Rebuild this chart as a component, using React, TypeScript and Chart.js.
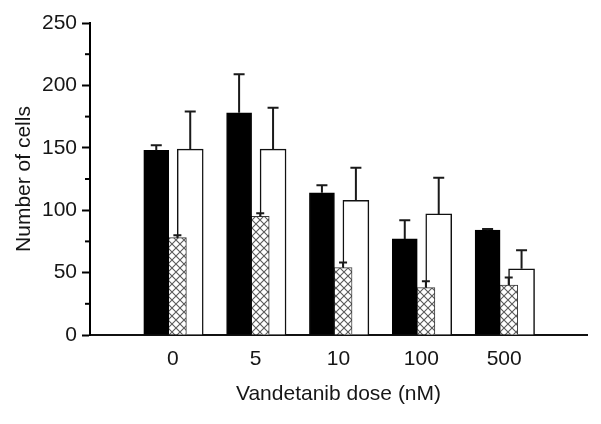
import React, { useEffect, useRef } from "react";
import { Chart, registerables } from "chart.js";

Chart.register(...registerables);

const categories = ["0", "5", "10", "100", "500"];
const blackMeans = [148, 178, 114, 77, 84];
const blackErr = [4, 31, 6, 15, 1];
const hatchedMeans = [78, 95, 54, 38, 40];
const hatchedErr = [2, 2.5, 4, 5, 6];
const whiteMeans = [149, 149, 108, 97, 53];
const whiteErr = [30, 33, 26, 29, 15];
const yTicks = [0, 50, 100, 150, 200, 250];

const FONT = "'Liberation Sans', Arial, sans-serif";
const TEXT = "#161616";

function makeHatch(): CanvasPattern | string {
  const n = 8;
  const c = document.createElement("canvas");
  c.width = n;
  c.height = n;
  const g = c.getContext("2d");
  if (!g) return "#fff";
  g.fillStyle = "#ffffff";
  g.fillRect(0, 0, n, n);
  g.strokeStyle = "#5a5a5a";
  g.lineWidth = 1.1;
  g.beginPath();
  g.moveTo(-1, -1);
  g.lineTo(n + 1, n + 1);
  g.moveTo(n + 1, -1);
  g.lineTo(-1, n + 1);
  g.stroke();
  const p = g.createPattern(c, "repeat");
  return p || "#fff";
}

const errorBarPlugin = {
  id: "errorBars",
  afterDatasetsDraw(chart: any) {
    const ctx = chart.ctx;
    const ys = chart.scales.y;
    chart.data.datasets.forEach((ds: any, di: number) => {
      const meta = chart.getDatasetMeta(di);
      meta.data.forEach((bar: any, i: number) => {
        const v = ds.data[i].y;
        const top = ys.getPixelForValue(v + ds.errors[i]);
        const x = bar.x;
        const cap = ds.capWidth;
        ctx.save();
        ctx.strokeStyle = "#1a1a1a";
        ctx.lineWidth = 2;
        ctx.beginPath();
        ctx.moveTo(x, bar.y);
        ctx.lineTo(x, top);
        ctx.moveTo(x - cap / 2, top);
        ctx.lineTo(x + cap / 2, top);
        ctx.stroke();
        ctx.restore();
      });
    });
  },
  afterDraw(chart: any) {
    const ctx = chart.ctx;
    const ys = chart.scales.y;
    const left = chart.chartArea.left;
    ctx.save();
    ctx.strokeStyle = "#000";
    ctx.lineWidth = 2;
    for (let i = 0; i < yTicks.length - 1; i++) {
      const mid = (yTicks[i] + yTicks[i + 1]) / 2;
      const py = ys.getPixelForValue(mid);
      ctx.beginPath();
      ctx.moveTo(left - 5, py);
      ctx.lineTo(left, py);
      ctx.stroke();
    }
    ctx.restore();
  },
};

export default function App() {
  const ref = useRef<HTMLCanvasElement | null>(null);

  useEffect(() => {
    if (!ref.current) return;
    const hatch = makeHatch();
    const BLACK_OFFSET = -0.2;
    const HATCH_OFFSET = 0.055;
    const WHITE_OFFSET = 0.21;
    const chart = new Chart(ref.current, {
      type: "bar",
      data: {
        datasets: [
          {
            label: "black",
            data: blackMeans.map((v, i) => ({ x: i + BLACK_OFFSET, y: v })),
            backgroundColor: "#000",
            borderColor: "#000",
            borderWidth: 1,
            barThickness: 25,
            grouped: false,
            errors: blackErr,
            capWidth: 11,
          } as any,
          {
            label: "hatched",
            data: hatchedMeans.map((v, i) => ({ x: i + HATCH_OFFSET, y: v })),
            backgroundColor: hatch,
            borderColor: "#3a3a3a",
            borderWidth: 1,
            barThickness: 18,
            grouped: false,
            errors: hatchedErr,
            capWidth: 8,
          } as any,
          {
            label: "white",
            data: whiteMeans.map((v, i) => ({ x: i + WHITE_OFFSET, y: v })),
            backgroundColor: "#fff",
            borderColor: "#111",
            borderWidth: 1.5,
            barThickness: 26,
            grouped: false,
            errors: whiteErr,
            capWidth: 11,
          } as any,
        ],
      },
      options: {
        animation: false,
        responsive: true,
        maintainAspectRatio: false,
        layout: { padding: { top: 23, right: 14, bottom: 0, left: 0 } },
        plugins: {
          legend: { display: false },
          tooltip: { enabled: false },
        },
        scales: {
          x: {
            type: "linear",
            min: -1,
            max: 5,
            offset: false,
            afterFit: (s: any) => {
              s.height = 89;
            },
            grid: { display: false, drawTicks: false },
            border: { display: true, color: "#111", width: 2 },
            ticks: {
              stepSize: 1,
              autoSkip: false,
              maxRotation: 0,
              padding: 12,
              color: TEXT,
              font: { family: FONT, size: 21 },
              callback: (v: any) => categories[v] ?? "",
            },
            title: {
              display: true,
              text: "Vandetanib dose (nM)",
              color: TEXT,
              font: { family: FONT, size: 21 },
              padding: { top: 0, bottom: 17 },
            },
          },
          y: {
            min: 0,
            max: 250,
            afterFit: (s: any) => {
              s.width = 90;
            },
            grid: {
              display: true,
              drawOnChartArea: false,
              drawTicks: true,
              tickLength: 8,
              tickWidth: 2,
              tickColor: (c: any) =>
                yTicks.includes(c.tick?.value) ? "#000" : "rgba(0,0,0,0)",
            },
            border: { display: true, color: "#000", width: 2 },
            ticks: {
              stepSize: 25,
              autoSkip: false,
              padding: 5,
              color: TEXT,
              font: { family: FONT, size: 21 },
              callback: (v: any) => (yTicks.includes(v) ? String(v) : ""),
            },
            title: {
              display: true,
              text: "Number of cells",
              color: TEXT,
              font: { family: FONT, size: 21 },
              padding: { top: 12, bottom: 0 },
            },
          },
        },
      },
      plugins: [errorBarPlugin],
    } as any);
    return () => chart.destroy();
  }, []);

  return (
    <div
      style={{
        position: "absolute",
        left: 0,
        top: 0,
        width: 601,
        height: 424,
        background: "#fff",
      }}
    >
      <canvas ref={ref} />
    </div>
  );
}
